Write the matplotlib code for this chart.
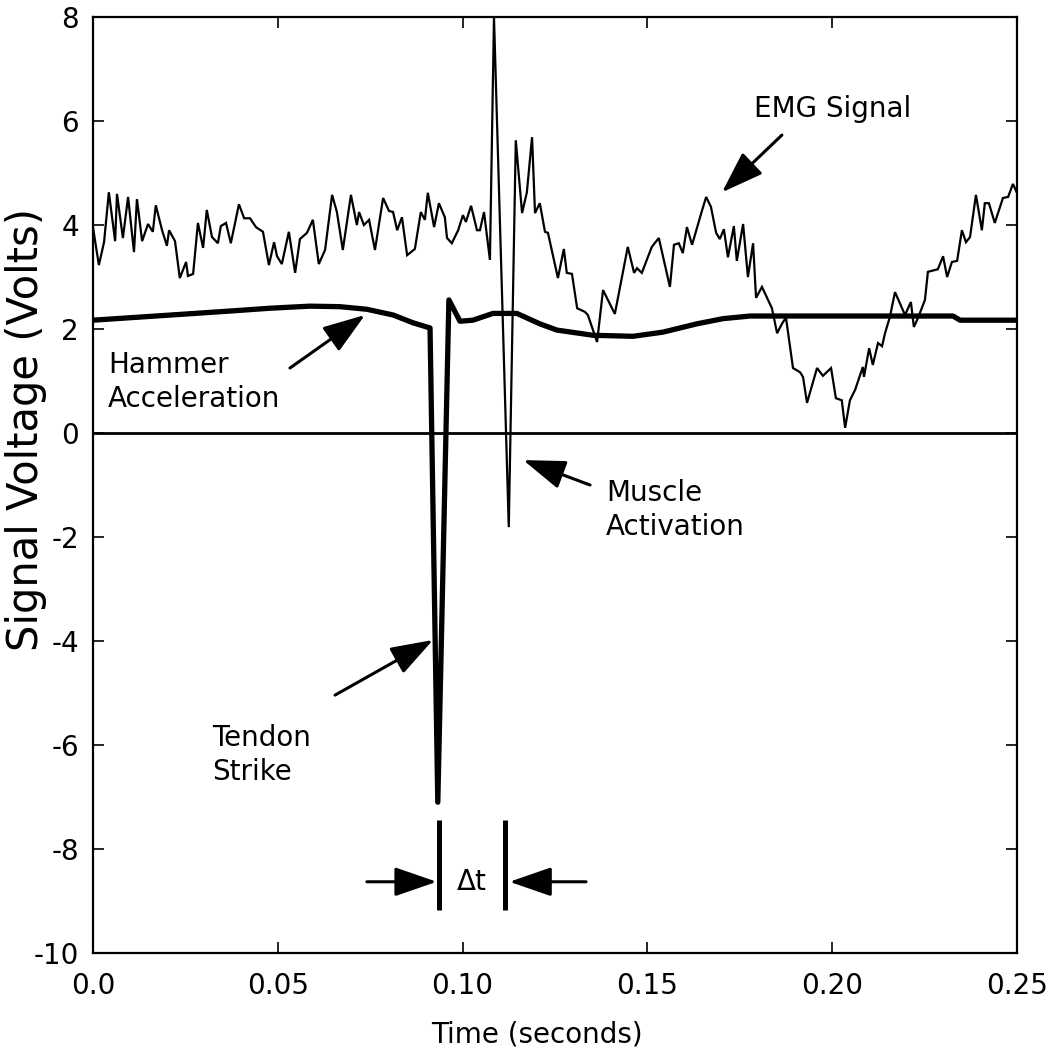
import matplotlib
matplotlib.use("Agg")
import matplotlib.pyplot as plt

plt.rcParams['font.family'] = ['DejaVu Sans']

# EMG signal (thin trace), time in seconds / volts
emg_t = [0.0000, 0.0016, 0.0030, 0.0043, 0.0060, 0.0065, 0.0081, 0.0095, 0.0111, 0.0119,
         0.0133, 0.0149, 0.0162, 0.0170, 0.0187, 0.0200, 0.0206, 0.0222, 0.0235, 0.0252,
         0.0257, 0.0271, 0.0284, 0.0298, 0.0308, 0.0322, 0.0338, 0.0346, 0.0360, 0.0373,
         0.0395, 0.0409, 0.0425, 0.0441, 0.0460, 0.0476, 0.0490, 0.0498, 0.0511, 0.0530,
         0.0547, 0.0560, 0.0579, 0.0595, 0.0611, 0.0628, 0.0647, 0.0660, 0.0676, 0.0698,
         0.0714, 0.0720, 0.0733, 0.0747, 0.0763, 0.0785, 0.0801, 0.0812, 0.0823, 0.0836,
         0.0850, 0.0871, 0.0887, 0.0898, 0.0906, 0.0923, 0.0936, 0.0952, 0.0958, 0.0971,
         0.0988, 0.1001, 0.1009, 0.1023, 0.1039, 0.1047, 0.1058, 0.1074, 0.1085, 0.1125,
         0.1144, 0.1161, 0.1174, 0.1188, 0.1196, 0.1209, 0.1223, 0.1231, 0.1258, 0.1274,
         0.1282, 0.1296, 0.1310, 0.1331, 0.1339, 0.1364, 0.1380, 0.1412, 0.1447, 0.1464,
         0.1472, 0.1485, 0.1512, 0.1531, 0.1561, 0.1572, 0.1585, 0.1596, 0.1607, 0.1621,
         0.1645, 0.1659, 0.1672, 0.1686, 0.1696, 0.1707, 0.1718, 0.1734, 0.1742, 0.1759,
         0.1772, 0.1786, 0.1794, 0.1810, 0.1837, 0.1851, 0.1864, 0.1875, 0.1894, 0.1913,
         0.1921, 0.1932, 0.1959, 0.1975, 0.1997, 0.2010, 0.2026, 0.2035, 0.2048, 0.2062,
         0.2083, 0.2086, 0.2100, 0.2110, 0.2124, 0.2135, 0.2143, 0.2156, 0.2170, 0.2189,
         0.2197, 0.2213, 0.2221, 0.2232, 0.2251, 0.2259, 0.2286, 0.2300, 0.2311, 0.2324,
         0.2338, 0.2351, 0.2362, 0.2373, 0.2389, 0.2405, 0.2413, 0.2424, 0.2440, 0.2462,
         0.2476, 0.2489, 0.2500]
emg_v = [3.96, 3.23, 3.67, 4.63, 3.69, 4.60, 3.75, 4.54, 3.48, 4.50,
         3.69, 4.02, 3.87, 4.38, 3.90, 3.60, 3.90, 3.69, 2.98, 3.29,
         3.02, 3.06, 4.04, 3.56, 4.29, 3.77, 3.65, 3.98, 4.04, 3.65,
         4.40, 4.13, 4.13, 3.96, 3.87, 3.23, 3.67, 3.40, 3.25, 3.87,
         3.08, 3.73, 3.85, 4.10, 3.25, 3.52, 4.58, 4.25, 3.52, 4.58,
         4.00, 4.25, 4.00, 4.10, 3.52, 4.52, 4.27, 4.25, 3.90, 4.15,
         3.42, 3.54, 4.25, 4.10, 4.62, 3.96, 4.42, 4.15, 3.75, 3.65,
         3.90, 4.19, 4.06, 4.37, 3.90, 3.90, 4.25, 3.33, 8.00, -1.81,
         5.63, 4.23, 4.63, 5.69, 4.23, 4.42, 3.87, 3.85, 2.98, 3.54,
         3.08, 3.06, 2.40, 2.33, 2.27, 1.75, 2.75, 2.29, 3.58, 3.08,
         3.17, 3.08, 3.58, 3.75, 2.81, 3.62, 3.65, 3.46, 3.96, 3.62,
         4.21, 4.54, 4.35, 3.85, 3.73, 3.92, 3.38, 3.98, 3.31, 4.02,
         3.00, 3.65, 2.60, 2.81, 2.40, 1.92, 2.10, 2.22, 1.25, 1.17,
         1.08, 0.58, 1.25, 1.10, 1.25, 0.67, 0.63, 0.10, 0.63, 0.83,
         1.27, 1.08, 1.63, 1.31, 1.73, 1.67, 1.92, 2.23, 2.71, 2.40,
         2.27, 2.52, 2.04, 2.21, 2.56, 3.10, 3.15, 3.40, 3.00, 3.29,
         3.31, 3.90, 3.67, 3.77, 4.58, 3.90, 4.42, 4.42, 4.04, 4.52,
         4.54, 4.79, 4.62]

# hammer accelerometer (thick trace)
ham_t = [0.0000, 0.0127, 0.0254, 0.0379, 0.0479, 0.0587, 0.0668, 0.0741, 0.0812, 0.0866,
         0.0912, 0.0933, 0.0963, 0.0993, 0.1028, 0.1082, 0.1147, 0.1209, 0.1255, 0.1353,
         0.1461, 0.1542, 0.1634, 0.1705, 0.1778, 0.2327, 0.2346, 0.2500]
ham_v = [2.17, 2.23, 2.29, 2.35, 2.40, 2.44, 2.43, 2.38, 2.27, 2.12,
         2.02, -7.10, 2.56, 2.15, 2.17, 2.30, 2.30, 2.10, 1.98, 1.88,
         1.86, 1.94, 2.10, 2.20, 2.25, 2.25, 2.17, 2.17]

xticks = [0.0, 0.05, 0.10, 0.15, 0.20, 0.25]
xtick_labels = ["0.0", "0.05", "0.10", "0.15", "0.20", "0.25"]
yticks = [-10, -8, -6, -4, -2, 0, 2, 4, 6, 8]

# delta-t markers: strike time and muscle response time
t_strike = 0.0936
t_response = 0.1115

fig = plt.figure(figsize=(10.48, 10.52), dpi=100)
ax = fig.add_axes([0.0887, 0.0941, 0.8817, 0.8897])

ax.axhline(0, color="black", lw=2.0, zorder=1)
ax.plot(emg_t, emg_v, color="black", lw=1.6, solid_joinstyle="miter", zorder=2)
ax.plot(ham_t, ham_v, color="black", lw=3.8, solid_joinstyle="round", zorder=3)

ax.set_xlim(0, 0.25)
ax.set_ylim(-10, 8)
ax.set_xticks(xticks)
ax.set_xticklabels(xtick_labels)
ax.set_yticks(yticks)
ax.set_yticklabels([str(v) for v in yticks])
ax.tick_params(direction="in", length=8, width=1.2, labelsize=20,
               top=True, right=True, pad=10)
ax.tick_params(axis="x", pad=14)
for sp in ax.spines.values():
    sp.set_linewidth(1.6)

ax.set_xlabel("Time (seconds)", fontsize=20)
ax.xaxis.set_label_coords(0.48, -0.072)
ax.set_ylabel("Signal Voltage (Volts)", fontsize=30)
ax.yaxis.set_label_coords(-0.050, 0.559)

arrow = dict(arrowstyle="-|>,head_length=1.3,head_width=0.45", mutation_scale=20,
             lw=2.2, color="black", shrinkA=0, shrinkB=0)

ax.text(0.2000, 6.08, "EMG Signal", fontsize=20, ha="center", va="baseline")
ax.annotate("", xy=(0.1702, 4.63), xytext=(0.1864, 5.73), arrowprops=arrow)

ax.text(0.0041, 0.98, "Hammer\nAcceleration", fontsize=20, ha="left", va="center",
        linespacing=1.3)
ax.annotate("", xy=(0.0736, 2.27), xytext=(0.0533, 1.25), arrowprops=arrow)

ax.text(0.1388, -1.48, "Muscle\nActivation", fontsize=20, ha="left", va="center",
        linespacing=1.3)
ax.annotate("", xy=(0.1164, -0.52), xytext=(0.1345, -1.0), arrowprops=arrow)

ax.text(0.0322, -6.19, "Tendon\nStrike", fontsize=20, ha="left", va="center",
        linespacing=1.3)
ax.annotate("", xy=(0.0920, -3.98), xytext=(0.0655, -5.04), arrowprops=arrow)

# delta-t bracket
for tx in (t_strike, t_response):
    ax.plot([tx, tx], [-7.44, -9.17], color="black", lw=3.6, solid_capstyle="butt")
ax.annotate("", xy=(t_strike - 0.0006, -8.63), xytext=(0.0741, -8.63), arrowprops=arrow)
ax.annotate("", xy=(t_response + 0.0012, -8.63), xytext=(0.1334, -8.63), arrowprops=arrow)
ax.text((t_strike + t_response) / 2, -8.63, "\u0394t", fontsize=20, ha="center", va="center")

fig.savefig("out.png", dpi=100)
